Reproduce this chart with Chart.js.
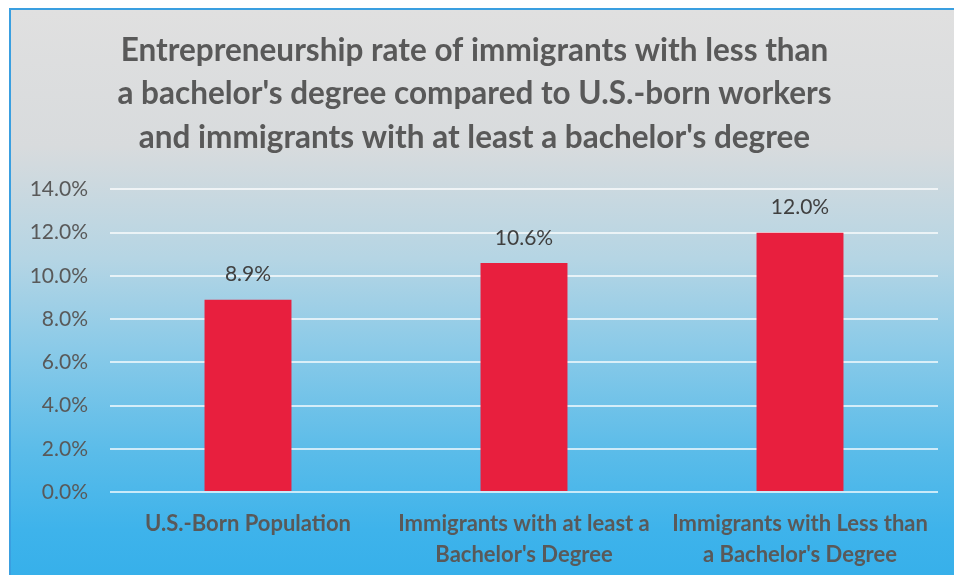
<!DOCTYPE html>
<html>
<head>
<meta charset="utf-8">
<title>Entrepreneurship rate</title>
<script src="https://cdn.jsdelivr.net/npm/chart.js@4/dist/chart.umd.min.js"></script>
<style>
    html, body {
        margin: 0;
        padding: 0;
        background: #fff;
        width: 954px;
        height: 575px;
        overflow: hidden;
    }
    #box {
        position: absolute;
        left: 9px;
        top: 8px;
        right: 0;
        bottom: 0;
        border-left: 2px solid #3a9fe0;
        border-top: 2px solid #3a9fe0;
        background: linear-gradient(to bottom, #e0e0e0 0%, #d8dbdd 24%, #b5d5e4 44%, #8acae8 60%, #5bbce9 78%, #3eb3eb 92%, #37b0ea 100%);
    }
</style>
</head>
<body>
<div id="box"><canvas id="myChart"></canvas></div>
<script>
'use strict';

var categories = [
    ['U.S.-Born Population'],
    ['Immigrants with at least a', "Bachelor's Degree"],
    ['Immigrants with Less than', "a Bachelor's Degree"]
];
var rates = [8.9, 10.6, 12.0];
var yTicks = [0, 2, 4, 6, 8, 10, 12, 14];
var titleLines = [
    'Entrepreneurship rate of immigrants with less than',
    "a bachelor's degree compared to U.S.-born workers",
    "and immigrants with at least a bachelor's degree"
];

var FONT = "Lato, 'Open Sans', sans-serif";
var GRAY = '#595959';

// writes each bar's value above it
var valueLabels = {
    id: 'valueLabels',
    afterDatasetsDraw: function(chart) {
        var ctx = chart.ctx;
        var meta = chart.getDatasetMeta(0);
        ctx.save();
        ctx.font = '21px ' + FONT;
        ctx.fillStyle = '#404040';
        ctx.textAlign = 'center';
        ctx.textBaseline = 'middle';
        meta.data.forEach(function(bar, i) {
            ctx.fillText(rates[i].toFixed(1) + '%', bar.x, bar.y - 25);
        });
        ctx.restore();
    }
};

function initChart() {
    var ctx = document.getElementById('myChart').getContext('2d');
    var data = {
        labels: categories,
        datasets: [
            {
                label: 'Entrepreneurship rate',
                data: rates,
                backgroundColor: '#e81f3e',
                borderWidth: 0,
                barPercentage: 0.315,
                categoryPercentage: 1.0
            }
        ]
    };
    var options = {
        responsive: true,
        maintainAspectRatio: false,
        animation: false,
        layout: {
            padding: { left: 0, right: 16, top: 0, bottom: 0 }
        },
        plugins: {
            legend: { display: false },
            tooltip: { enabled: false },
            title: {
                display: true,
                text: titleLines,
                color: GRAY,
                font: { family: FONT, size: 31.5, weight: 'bold', lineHeight: 1.38 },
                padding: { top: 19, bottom: 30 }
            }
        },
        scales: {
            x: {
                grid: { display: false },
                border: { display: false },
                ticks: {
                    color: GRAY,
                    padding: 9,
                    maxRotation: 0,
                    autoSkip: false,
                    font: { family: FONT, size: 22, weight: 'bold', lineHeight: 1.4 }
                },
                afterFit: function(scale) { scale.height = 83; }
            },
            y: {
                min: 0,
                max: 14,
                afterBuildTicks: function(scale) {
                    scale.ticks = yTicks.map(function(v) { return { value: v }; });
                },
                grid: {
                    color: 'rgba(255,255,255,0.7)',
                    lineWidth: 2,
                    drawTicks: false
                },
                border: { display: false },
                ticks: {
                    color: GRAY,
                    padding: 22,
                    font: { family: FONT, size: 21 },
                    callback: function(v) { return v.toFixed(1) + '%'; }
                },
                afterFit: function(scale) { scale.width = 99; }
            }
        }
    };
    new Chart(ctx, {
        type: 'bar',
        data: data,
        options: options,
        plugins: [valueLabels]
    });
}

initChart();
</script>
</body>
</html>
